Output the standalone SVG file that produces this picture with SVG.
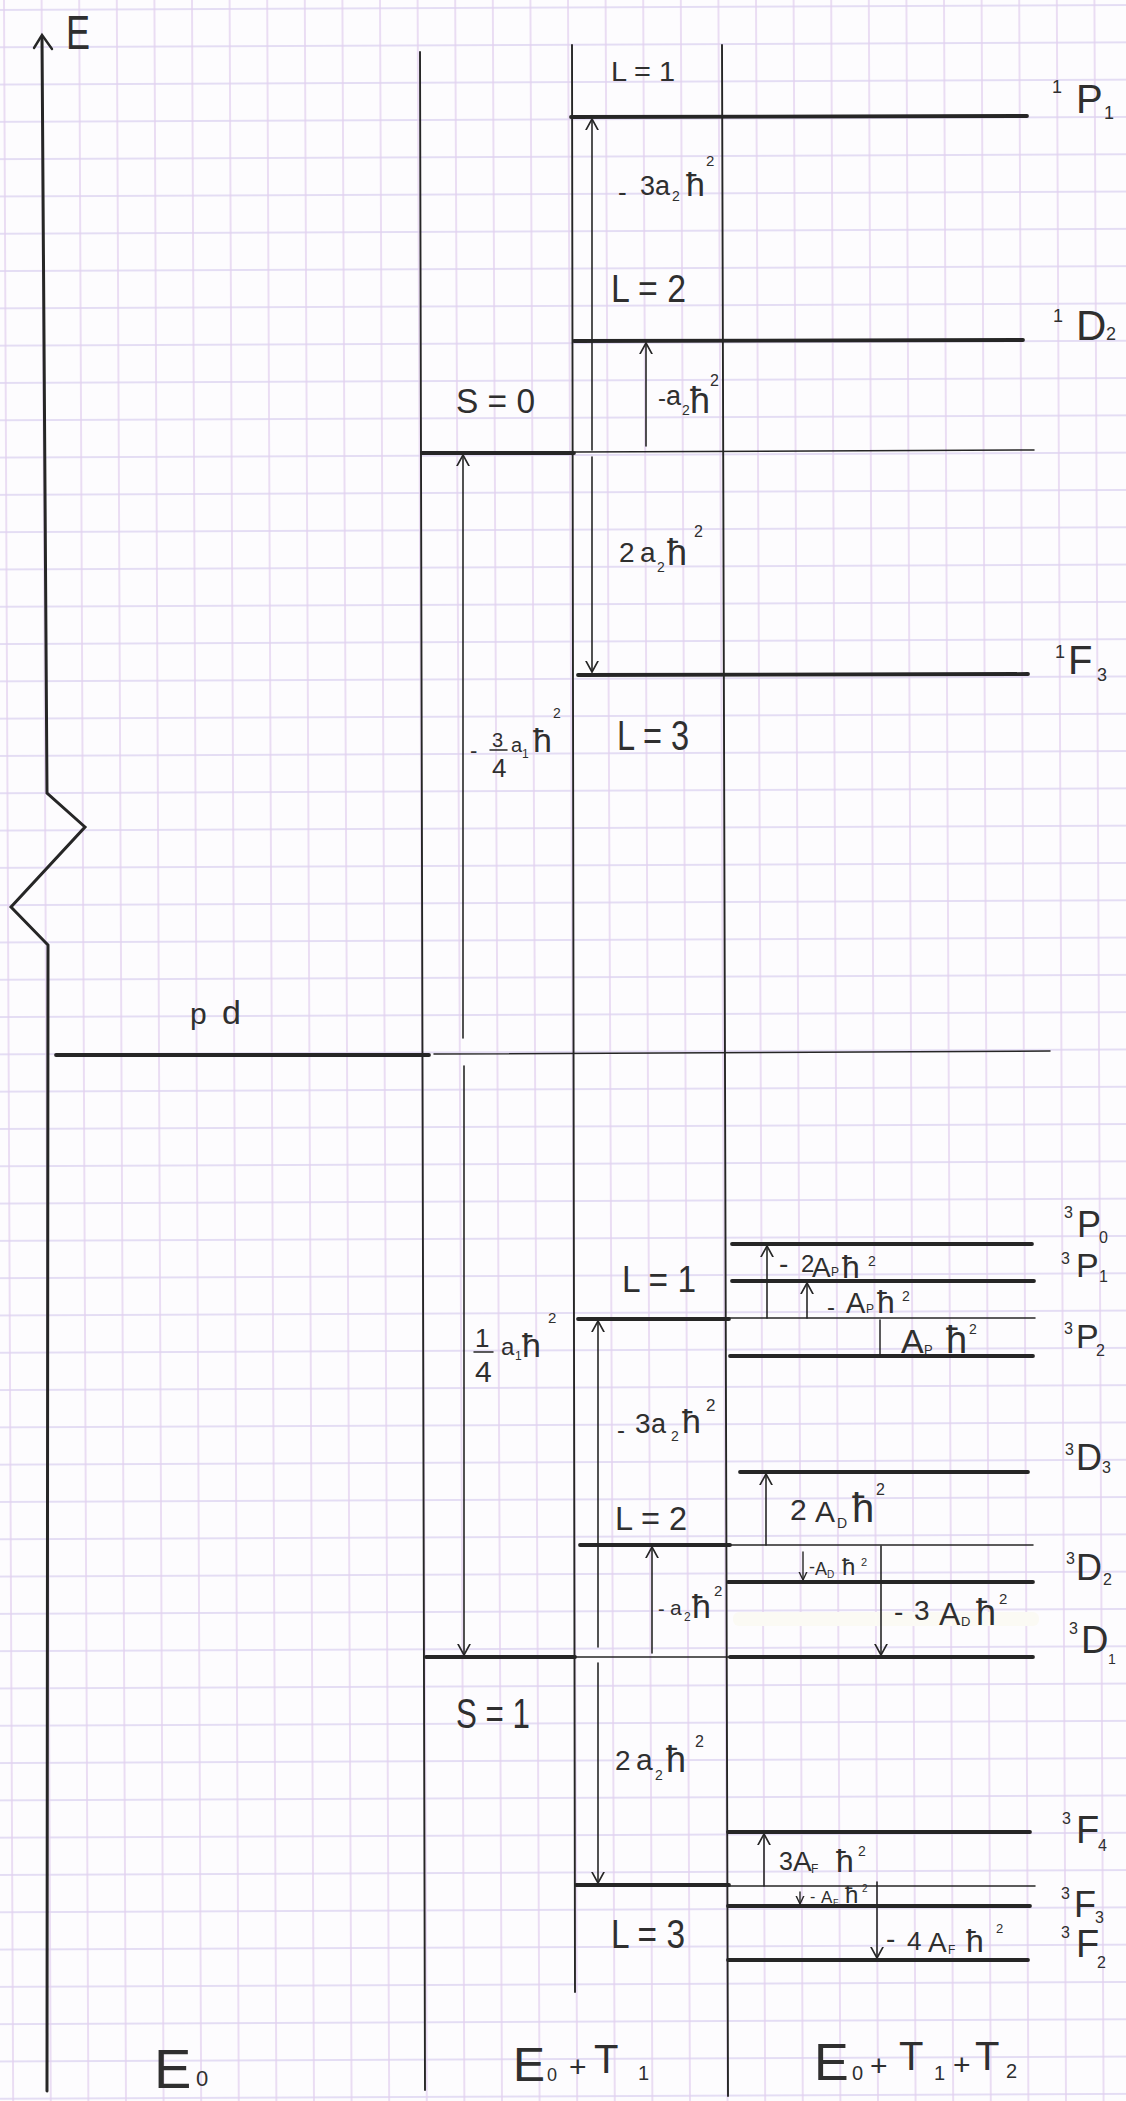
<svg xmlns="http://www.w3.org/2000/svg" width="1126" height="2101" viewBox="0 0 1126 2101">
  <defs>
    <!-- squared paper -->
    <pattern id="grid" patternUnits="userSpaceOnUse" x="-14.8" y="-8.7" width="37.6" height="37.3" patternTransform="rotate(-0.25)">
      <path d="M0,18.65 H37.6" fill="none" stroke="#ddd3f1" stroke-width="1.4"/>
      <path d="M18.8,0 V37.3" fill="none" stroke="#e3d0ef" stroke-width="1.4"/>
    </pattern>
    <!-- open arrowheads -->
    <marker id="tip" viewBox="0 0 12 14" refX="11" refY="7" markerWidth="12" markerHeight="14" orient="auto" markerUnits="userSpaceOnUse">
      <path d="M0,1 L11,7 L0,13" fill="none" stroke="#262626" stroke-width="1.6" stroke-linejoin="round" stroke-linecap="round"/>
    </marker>
    <marker id="tipS" viewBox="0 0 9 10" refX="8.5" refY="5" markerWidth="9" markerHeight="10" orient="auto" markerUnits="userSpaceOnUse">
      <path d="M0,1 L8.5,5 L0,9" fill="none" stroke="#262626" stroke-width="1.4" stroke-linejoin="round" stroke-linecap="round"/>
    </marker>
  </defs>
  <style>
    .ink { stroke: #262626; fill: none; stroke-linecap: round; }
    .axis { stroke-width: 3; stroke-linejoin: miter; }
    .col { stroke-width: 1.9; }
    .lvl { stroke-width: 3.8; }
    .thin { stroke-width: 1.5; }
    .arr { stroke-width: 1.6; marker-end: url(#tip); }
    .arrS { stroke-width: 1.4; marker-end: url(#tipS); }
    text { font-family: "Liberation Sans", "DejaVu Sans", sans-serif; fill: #2f2f2f; }
  </style>

  <rect width="1126" height="2101" fill="#fdfcfe"/>
  <rect width="1126" height="2101" fill="url(#grid)"/>
  <!-- correction fluid stripe -->
  <rect x="733" y="1612" width="306" height="14" rx="6" fill="#fbfaf4"/>

  <!-- energy axis with break -->
  <g id="energy-axis">
    <path class="ink axis" d="M42,37 L47,793 L85,827 L11,907 L48,945 L47,2091"/>
    <path class="ink" stroke-width="2.4" d="M34,48 L42,35 L52,49"/>
    <text x="66" y="49" font-size="48" textLength="24" lengthAdjust="spacingAndGlyphs">E</text>
  </g>

  <!-- column dividers -->
  <g id="columns">
    <path class="ink col" d="M420,52 L425,2090"/>
    <path class="ink col" d="M572,45 L575,1992"/>
    <path class="ink col" d="M722,45 L728,2096"/>
  </g>

  <!-- configuration level -->
  <g id="level-pd">
    <path class="ink lvl" d="M56,1055 L429,1055"/>
    <path class="ink thin" d="M434,1054 L1050,1051"/>
    <text font-size="32"><tspan x="190" y="1024" font-size="30">p</tspan><tspan x="222" y="1024" font-size="34">d</tspan></text>
  </g>

  <!-- singlet branch -->
  <g id="level-S0">
    <path class="ink lvl" d="M422,453 L574,453"/>
    <path class="ink thin" d="M575,452 L1034,450"/>
    <text x="456" y="413" font-size="35" textLength="79" lengthAdjust="spacingAndGlyphs">S = 0</text>
  </g>

  <g id="level-1P1">
    <path class="ink lvl" d="M571,117 L1027,116"/>
    <text x="611" y="81" font-size="27" textLength="64" lengthAdjust="spacingAndGlyphs">L = 1</text>
    <text><tspan x="1052" y="93" font-size="18">1</tspan><tspan x="1076" y="113" font-size="40">P</tspan><tspan x="1104" y="119" font-size="18">1</tspan></text>
  </g>

  <g id="level-1D2">
    <path class="ink lvl" d="M574,341 L1023,340"/>
    <text x="611" y="302" font-size="38" textLength="75" lengthAdjust="spacingAndGlyphs">L = 2</text>
    <text><tspan x="1053" y="322" font-size="18">1</tspan><tspan x="1076" y="340" font-size="42">D</tspan><tspan x="1106" y="340" font-size="18">2</tspan></text>
  </g>

  <g id="level-1F3">
    <path class="ink lvl" d="M578,675 L1028,674"/>
    <text x="617" y="750" font-size="42" textLength="72" lengthAdjust="spacingAndGlyphs">L = 3</text>
    <text><tspan x="1055" y="658" font-size="18">1</tspan><tspan x="1068" y="674" font-size="40">F</tspan><tspan x="1097" y="681" font-size="18">3</tspan></text>
  </g>

  <!-- triplet branch -->
  <g id="level-S1">
    <path class="ink lvl" d="M426,1657 L575,1657"/>
    <path class="ink thin" d="M575,1657 L730,1657"/>
    <text x="456" y="1728" font-size="42" textLength="74" lengthAdjust="spacingAndGlyphs">S = 1</text>
  </g>

  <g id="level-3P">
    <path class="ink lvl" d="M578,1319 L729,1319"/>
    <path class="ink thin" d="M729,1318 L1035,1318"/>
    <text x="622" y="1292" font-size="36" textLength="74" lengthAdjust="spacingAndGlyphs">L = 1</text>
  </g>
  <g id="level-3P0">
    <path class="ink lvl" d="M732,1244 L1032,1244"/>
    <text><tspan x="1064" y="1218" font-size="16">3</tspan><tspan x="1077" y="1237" font-size="36">P</tspan><tspan x="1099" y="1243" font-size="16">0</tspan></text>
  </g>
  <g id="level-3P1">
    <path class="ink lvl" d="M732,1281 L1034,1281"/>
    <text><tspan x="1061" y="1264" font-size="16">3</tspan><tspan x="1076" y="1277" font-size="34">P</tspan><tspan x="1099" y="1282" font-size="16">1</tspan></text>
  </g>
  <g id="level-3P2">
    <path class="ink lvl" d="M730,1356 L1033,1356"/>
    <text><tspan x="1064" y="1334" font-size="16">3</tspan><tspan x="1076" y="1348" font-size="34">P</tspan><tspan x="1096" y="1356" font-size="16">2</tspan></text>
  </g>

  <g id="level-3D">
    <path class="ink lvl" d="M580,1545 L730,1545"/>
    <path class="ink thin" d="M730,1545 L1033,1545"/>
    <text x="615" y="1530" font-size="34" textLength="72" lengthAdjust="spacingAndGlyphs">L = 2</text>
  </g>
  <g id="level-3D3">
    <path class="ink lvl" d="M740,1472 L1028,1472"/>
    <text><tspan x="1065" y="1455" font-size="16">3</tspan><tspan x="1076" y="1470" font-size="36">D</tspan><tspan x="1102" y="1473" font-size="16">3</tspan></text>
  </g>
  <g id="level-3D2">
    <path class="ink lvl" d="M728,1582 L1033,1582"/>
    <text><tspan x="1066" y="1564" font-size="16">3</tspan><tspan x="1076" y="1580" font-size="36">D</tspan><tspan x="1103" y="1585" font-size="16">2</tspan></text>
  </g>
  <g id="level-3D1">
    <path class="ink lvl" d="M730,1657 L1033,1657"/>
    <text><tspan x="1069" y="1634" font-size="16">3</tspan><tspan x="1081" y="1653" font-size="38">D</tspan><tspan x="1108" y="1664" font-size="14">1</tspan></text>
  </g>

  <g id="level-3F">
    <path class="ink lvl" d="M576,1885 L729,1885"/>
    <path class="ink thin" d="M729,1886 L1035,1886"/>
    <text x="611" y="1948" font-size="40" textLength="74" lengthAdjust="spacingAndGlyphs">L = 3</text>
  </g>
  <g id="level-3F4">
    <path class="ink lvl" d="M728,1832 L1030,1832"/>
    <text><tspan x="1062" y="1824" font-size="16">3</tspan><tspan x="1076" y="1843" font-size="38">F</tspan><tspan x="1098" y="1851" font-size="16">4</tspan></text>
  </g>
  <g id="level-3F3">
    <path class="ink lvl" d="M728,1906 L1030,1906"/>
    <text><tspan x="1061" y="1899" font-size="16">3</tspan><tspan x="1074" y="1917" font-size="36">F</tspan><tspan x="1095" y="1923" font-size="16">3</tspan></text>
  </g>
  <g id="level-3F2">
    <path class="ink lvl" d="M728,1960 L1028,1960"/>
    <text><tspan x="1061" y="1938" font-size="16">3</tspan><tspan x="1076" y="1957" font-size="38">F</tspan><tspan x="1097" y="1968" font-size="16">2</tspan></text>
  </g>

  <!-- shift arrows -->
  <g id="connectors">
    <path class="ink arr" d="M463,1038 V455"/>
    <path class="ink arr" d="M464,1066 V1655"/>
    <path class="ink arr" d="M592,450 V119"/>
    <path class="ink arr" d="M592,457 V672"/>
    <path class="ink arr" d="M646,446 V343"/>
    <path class="ink arr" d="M598,1647 V1321"/>
    <path class="ink arr" d="M652,1653 V1547"/>
    <path class="ink arr" d="M598,1663 V1883"/>
    <path class="ink arr" d="M767,1318 V1246"/>
    <path class="ink arr" d="M807,1318 V1283"/>
    <path class="ink thin" d="M880,1320 V1355"/>
    <path class="ink arr" d="M766,1545 V1474"/>
    <path class="ink arrS" d="M803,1552 V1580"/>
    <path class="ink arr" d="M881,1546 V1655"/>
    <path class="ink arr" d="M764,1886 V1834"/>
    <path class="ink arrS" d="M800,1892 V1904"/>
    <path class="ink arr" d="M877,1882 V1958"/>
  </g>

  <!-- shift labels -->
  <g id="shift-labels">
    <!-- spin-spin: -3/4 a1 h^2 and 1/4 a1 h^2 -->
    <text><tspan x="470" y="758" font-size="22">-</tspan><tspan x="492" y="747" font-size="20">3</tspan><tspan x="492" y="777" font-size="26">4</tspan><tspan x="511" y="752" font-size="20">a</tspan><tspan x="522" y="758" font-size="12">1</tspan><tspan x="533" y="752" font-size="34">ħ</tspan><tspan x="553" y="718" font-size="14">2</tspan></text>
    <path class="ink" stroke-width="1.5" d="M490,750 H507"/>
    <text><tspan x="475" y="1347" font-size="26">1</tspan><tspan x="475" y="1382" font-size="30">4</tspan><tspan x="501" y="1355" font-size="24">a</tspan><tspan x="515" y="1360" font-size="12">1</tspan><tspan x="522" y="1357" font-size="34">ħ</tspan><tspan x="548" y="1323" font-size="15">2</tspan></text>
    <path class="ink" stroke-width="1.5" d="M474,1352 H493"/>

    <!-- orbit-orbit, singlet -->
    <text><tspan x="618" y="201" font-size="26">-</tspan><tspan x="640" y="195" font-size="27">3a</tspan><tspan x="672" y="201" font-size="14">2</tspan><tspan x="686" y="196" font-size="34">ħ</tspan><tspan x="706" y="166" font-size="15">2</tspan></text>
    <text><tspan x="658" y="406" font-size="24">-</tspan><tspan x="666" y="405" font-size="27">a</tspan><tspan x="682" y="415" font-size="14">2</tspan><tspan x="690" y="413" font-size="36">ħ</tspan><tspan x="710" y="386" font-size="16">2</tspan></text>
    <text><tspan x="619" y="562" font-size="28">2</tspan><tspan x="640" y="562" font-size="28">a</tspan><tspan x="657" y="572" font-size="14">2</tspan><tspan x="667" y="565" font-size="36">ħ</tspan><tspan x="694" y="537" font-size="16">2</tspan></text>

    <!-- orbit-orbit, triplet -->
    <text><tspan x="617" y="1438" font-size="24">-</tspan><tspan x="635" y="1433" font-size="28">3</tspan><tspan x="651" y="1433" font-size="27">a</tspan><tspan x="671" y="1441" font-size="14">2</tspan><tspan x="682" y="1433" font-size="34">ħ</tspan><tspan x="706" y="1411" font-size="17">2</tspan></text>
    <text><tspan x="658" y="1616" font-size="20">-</tspan><tspan x="670" y="1615" font-size="21">a</tspan><tspan x="684" y="1621" font-size="12">2</tspan><tspan x="692" y="1618" font-size="34">ħ</tspan><tspan x="714" y="1596" font-size="15">2</tspan></text>
    <text><tspan x="615" y="1770" font-size="28">2</tspan><tspan x="636" y="1770" font-size="30">a</tspan><tspan x="655" y="1780" font-size="14">2</tspan><tspan x="666" y="1772" font-size="36">ħ</tspan><tspan x="695" y="1747" font-size="16">2</tspan></text>

    <!-- spin-orbit, P -->
    <text><tspan x="779" y="1273" font-size="28">-</tspan><tspan x="801" y="1272" font-size="24">2</tspan><tspan x="812" y="1277" font-size="28">A</tspan><tspan x="831" y="1276" font-size="12">P</tspan><tspan x="842" y="1278" font-size="32">ħ</tspan><tspan x="868" y="1266" font-size="14">2</tspan></text>
    <text><tspan x="827" y="1315" font-size="24">-</tspan><tspan x="846" y="1313" font-size="29">A</tspan><tspan x="866" y="1313" font-size="12">P</tspan><tspan x="877" y="1313" font-size="32">ħ</tspan><tspan x="902" y="1301" font-size="14">2</tspan></text>
    <text><tspan x="901" y="1353" font-size="34">A</tspan><tspan x="924" y="1354" font-size="13">P</tspan><tspan x="946" y="1353" font-size="38">ħ</tspan><tspan x="969" y="1334" font-size="14">2</tspan></text>

    <!-- spin-orbit, D -->
    <text><tspan x="790" y="1520" font-size="30">2</tspan><tspan x="815" y="1522" font-size="30">A</tspan><tspan x="837" y="1528" font-size="14">D</tspan><tspan x="852" y="1522" font-size="40">ħ</tspan><tspan x="876" y="1495" font-size="16">2</tspan></text>
    <text><tspan x="809" y="1573" font-size="18">-</tspan><tspan x="815" y="1575" font-size="18">A</tspan><tspan x="827" y="1578" font-size="10">D</tspan><tspan x="842" y="1575" font-size="24">ħ</tspan><tspan x="861" y="1566" font-size="11">2</tspan></text>
    <text><tspan x="894" y="1621" font-size="28">-</tspan><tspan x="914" y="1620" font-size="28">3</tspan><tspan x="939" y="1625" font-size="32">A</tspan><tspan x="961" y="1626" font-size="13">D</tspan><tspan x="976" y="1625" font-size="36">ħ</tspan><tspan x="999" y="1604" font-size="15">2</tspan></text>

    <!-- spin-orbit, F -->
    <text><tspan x="779" y="1870" font-size="25">3</tspan><tspan x="793" y="1871" font-size="28">A</tspan><tspan x="811" y="1873" font-size="12">F</tspan><tspan x="836" y="1872" font-size="32">ħ</tspan><tspan x="858" y="1856" font-size="14">2</tspan></text>
    <text><tspan x="810" y="1902" font-size="16">-</tspan><tspan x="821" y="1903" font-size="17">A</tspan><tspan x="833" y="1905" font-size="9">F</tspan><tspan x="845" y="1903" font-size="24">ħ</tspan><tspan x="862" y="1892" font-size="10">2</tspan></text>
    <text><tspan x="886" y="1948" font-size="28">-</tspan><tspan x="907" y="1950" font-size="26">4</tspan><tspan x="928" y="1952" font-size="28">A</tspan><tspan x="948" y="1954" font-size="12">F</tspan><tspan x="966" y="1952" font-size="32">ħ</tspan><tspan x="996" y="1933" font-size="13">2</tspan></text>
  </g>

  <!-- column captions -->
  <g id="column-labels">
    <text><tspan x="154" y="2088" font-size="56">E</tspan><tspan x="196" y="2086" font-size="22">0</tspan></text>
    <text><tspan x="513" y="2081" font-size="48">E</tspan><tspan x="547" y="2081" font-size="18">0</tspan><tspan x="569" y="2077" font-size="30">+</tspan><tspan x="594" y="2073" font-size="40">T</tspan><tspan x="638" y="2080" font-size="20">1</tspan></text>
    <text><tspan x="814" y="2080" font-size="52">E</tspan><tspan x="852" y="2080" font-size="20">0</tspan><tspan x="870" y="2076" font-size="30">+</tspan><tspan x="899" y="2070" font-size="40">T</tspan><tspan x="934" y="2080" font-size="20">1</tspan><tspan x="953" y="2075" font-size="30">+</tspan><tspan x="975" y="2070" font-size="40">T</tspan><tspan x="1006" y="2078" font-size="20">2</tspan></text>
  </g>
</svg>
